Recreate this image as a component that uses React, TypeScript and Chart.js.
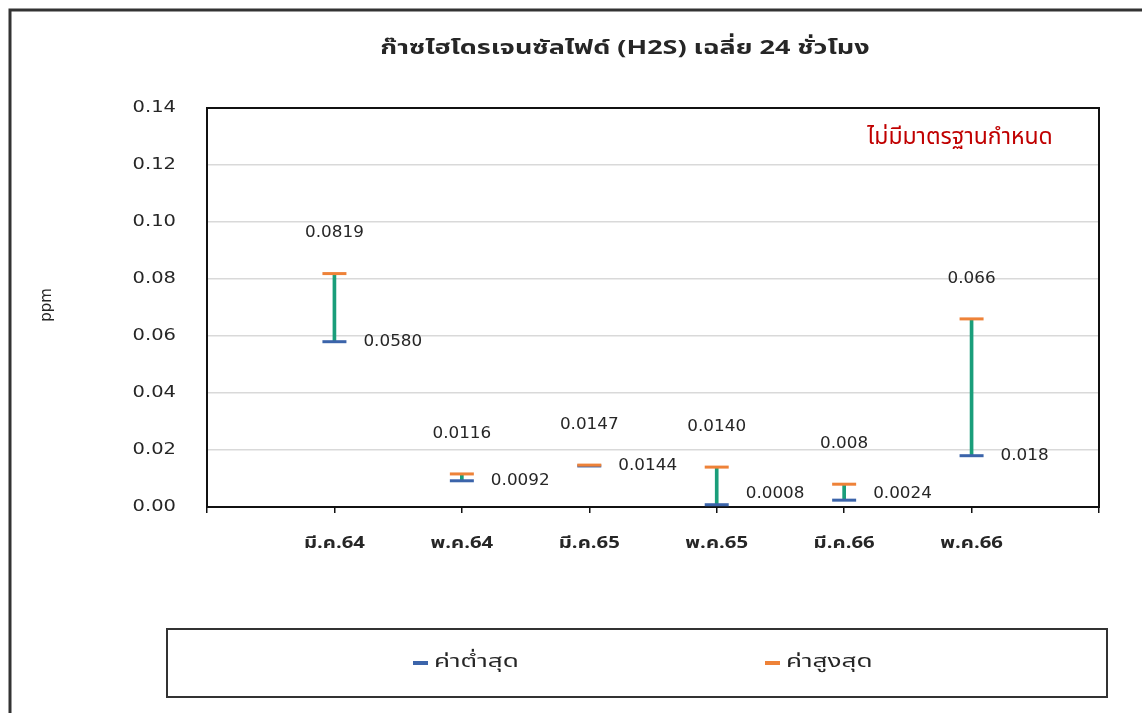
import React, { useEffect, useRef } from 'react';
import { Chart, registerables } from 'chart.js';
Chart.register(...registerables);

const categories = ['มี.ค.64', 'พ.ค.64', 'มี.ค.65', 'พ.ค.65', 'มี.ค.66', 'พ.ค.66'];
const minValues = [0.058, 0.0092, 0.0144, 0.0008, 0.0024, 0.018];
const maxValues = [0.0819, 0.0116, 0.0147, 0.014, 0.008, 0.066];
const minLabels = ['0.0580', '0.0092', '0.0144', '0.0008', '0.0024', '0.018'];
const maxLabels = ['0.0819', '0.0116', '0.0147', '0.0140', '0.008', '0.066'];
const yTickValues = [0, 0.02, 0.04, 0.06, 0.08, 0.1, 0.12, 0.14];
const seriesNames = ['ค่าต่ำสุด', 'ค่าสูงสุด'];
const titleText = 'ก๊าซไฮโดรเจนซัลไฟด์ (H2S) เฉลี่ย 24 ชั่วโมง';
const noteText = 'ไม่มีมาตรฐานกำหนด';
const yAxisTitle = 'ppm';

const BLUE = '#3b64aa';
const ORANGE = '#ee8238';
const TEAL = '#1a9e7a';
const THAI = '"Noto Sans Thai", "Tahoma", "Leelawadee UI", "Noto Sans", sans-serif';
const NUM = '"DejaVu Sans", "Noto Sans", sans-serif';
const TEXT = '#262626';

function sText(ctx: CanvasRenderingContext2D, text: string, x: number, y: number, sx: number, align: CanvasTextAlign) {
  ctx.save();
  ctx.translate(x, y);
  ctx.scale(sx, 1);
  ctx.textAlign = align;
  ctx.textBaseline = 'middle';
  ctx.fillText(text, 0, 0);
  ctx.restore();
}

export default function App() {
  const ref = useRef<HTMLCanvasElement | null>(null);
  useEffect(() => {
    if (!ref.current) return;
    const axisLabels = ['', ...categories, ''];
    const pad = (arr: any[]) => [null, ...arr, null];
    const decor = {
      id: 'decor',
      beforeDatasetsDraw(chart: any) {
        const { ctx, chartArea: a } = chart;
        ctx.save();
        ctx.strokeStyle = '#111';
        ctx.lineWidth = 2;
        ctx.strokeRect(a.left, a.top, a.right - a.left, a.bottom - a.top);
        ctx.restore();
      },
      afterDraw(chart: any) {
        const { ctx, chartArea: a } = chart;
        const xs = chart.scales.x;
        const ys = chart.scales.y;
        ctx.save();
        // outer frame
        ctx.strokeStyle = '#333';
        ctx.lineWidth = 3;
        ctx.beginPath();
        ctx.moveTo(10, 713);
        ctx.lineTo(10, 10);
        ctx.lineTo(1142, 10);
        ctx.stroke();
        // title
        ctx.fillStyle = TEXT;
        ctx.font = `bold 20px ${THAI}`;
        sText(ctx, titleText, 625, 50, 1.35, 'center');
        // note
        ctx.fillStyle = '#c00000';
        ctx.font = `23px ${THAI}`;
        sText(ctx, noteText, 960, 139, 1, 'center');
        // y title
        ctx.save();
        ctx.translate(47, 305);
        ctx.rotate(-Math.PI / 2);
        ctx.fillStyle = TEXT;
        ctx.font = `15px ${NUM}`;
        sText(ctx, yAxisTitle, 0, 0, 1, 'center');
        ctx.restore();
        // y tick labels
        ctx.fillStyle = TEXT;
        ctx.font = `15px ${NUM}`;
        yTickValues.forEach((v) => {
          sText(ctx, v.toFixed(2), a.left - 31, ys.getPixelForValue(v), 1.3, 'right');
        });
        // x tick labels
        ctx.font = `bold 16px ${THAI}`;
        categories.forEach((c, i) => {
          sText(ctx, c, xs.getPixelForValue(i + 1), a.bottom + 38, 1.27, 'center');
        });
        // data labels
        ctx.font = `15px ${NUM}`;
        const minMeta = chart.getDatasetMeta(1);
        const maxMeta = chart.getDatasetMeta(2);
        categories.forEach((_, i) => {
          const pMax = maxMeta.data[i + 1];
          const pMin = minMeta.data[i + 1];
          sText(ctx, maxLabels[i], pMax.x, pMax.y - 40, 1.12, 'center');
          sText(ctx, minLabels[i], pMin.x + 29, Math.min(pMin.y, a.bottom - 13), 1.12, 'left');
        });
        // legend
        ctx.strokeStyle = '#333';
        ctx.lineWidth = 2;
        ctx.strokeRect(167, 629, 940, 68);
        const items = [
          { x: 413, color: BLUE, text: seriesNames[0] },
          { x: 765, color: ORANGE, text: seriesNames[1] },
        ];
        ctx.font = `18px ${THAI}`;
        items.forEach((it) => {
          ctx.strokeStyle = it.color;
          ctx.lineWidth = 4;
          ctx.beginPath();
          ctx.moveTo(it.x, 663);
          ctx.lineTo(it.x + 15, 663);
          ctx.stroke();
          ctx.fillStyle = TEXT;
          sText(ctx, it.text, it.x + 21, 663, 1.45, 'left');
        });
        ctx.restore();
      },
    };
    const chart = new Chart(ref.current, {
      type: 'bar',
      data: {
        labels: axisLabels,
        datasets: [
          {
            type: 'bar',
            label: 'range',
            data: pad(categories.map((_, i) => [minValues[i], maxValues[i]])),
            backgroundColor: TEAL,
            barThickness: 3,
            order: 3,
          } as any,
          {
            type: 'line',
            label: seriesNames[0],
            data: pad(minValues),
            showLine: false,
            pointStyle: 'line',
            pointRadius: 12,
            pointBorderWidth: 3,
            pointBorderColor: BLUE,
            pointBackgroundColor: BLUE,
            borderColor: BLUE,
            order: 2,
          } as any,
          {
            type: 'line',
            label: seriesNames[1],
            data: pad(maxValues),
            showLine: false,
            pointStyle: 'line',
            pointRadius: 12,
            pointBorderWidth: 3,
            pointBorderColor: ORANGE,
            pointBackgroundColor: ORANGE,
            borderColor: ORANGE,
            order: 1,
          } as any,
        ],
      },
      options: {
        responsive: false,
        animation: false,
        devicePixelRatio: 1,
        layout: { padding: { left: 0, top: 108, right: 43, bottom: 146 } },
        plugins: { legend: { display: false }, title: { display: false }, tooltip: { enabled: false } },
        scales: {
          x: {
            type: 'category',
            offset: false,
            grid: { offset: false, drawOnChartArea: false, drawTicks: true, tickLength: 6, color: '#111', lineWidth: 1.5 },
            border: { display: false },
            ticks: { display: false, autoSkip: false },
            afterFit: (s: any) => { s.height = 60; },
          },
          y: {
            min: 0,
            max: 0.14,
            afterBuildTicks: (s: any) => { s.ticks = yTickValues.map((v) => ({ value: v })); },
            grid: { color: '#d9d9d9', lineWidth: 1.5, drawTicks: false },
            border: { display: false },
            ticks: { display: false },
            afterFit: (s: any) => { s.width = 207; },
          },
        },
      } as any,
      plugins: [decor],
    });
    return () => chart.destroy();
  }, []);
  return (
    <div style={{ position: 'absolute', left: 0, top: 0, width: 1142, height: 713, background: '#fff' }}>
      <canvas ref={ref} width={1142} height={713} style={{ width: 1142, height: 713 }} />
    </div>
  );
}
